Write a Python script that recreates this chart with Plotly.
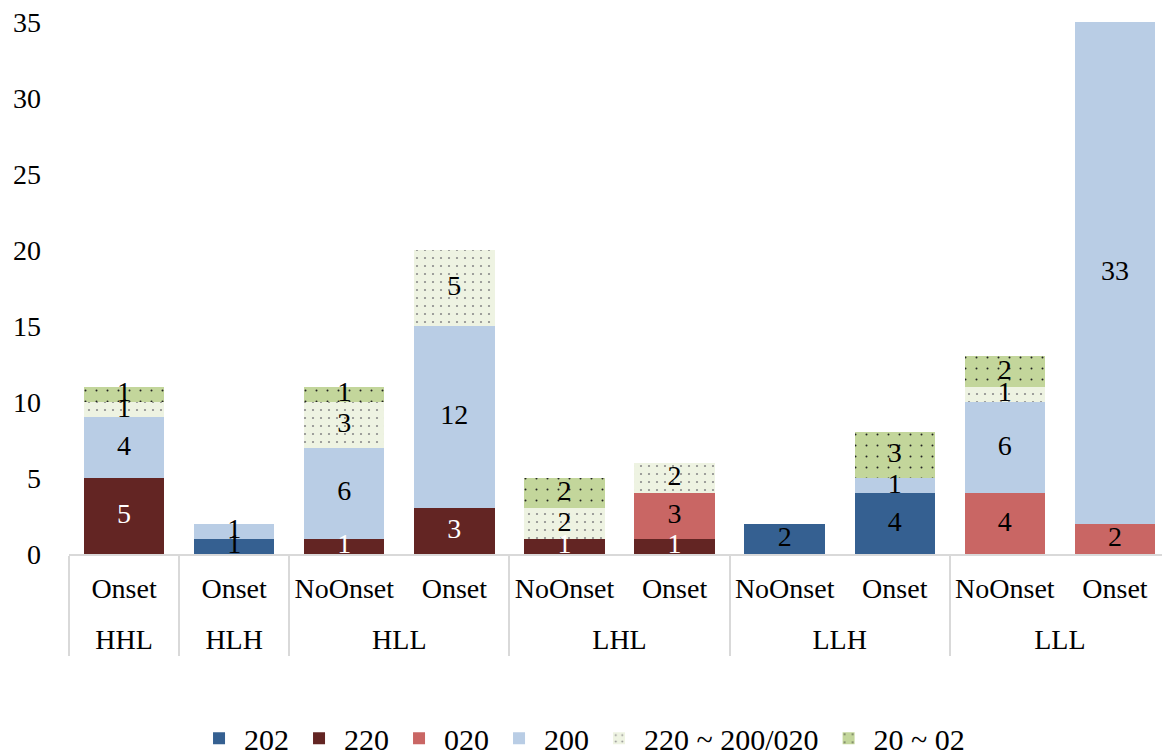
import plotly.graph_objects as go

groups = ["HHL", "HLH", "HLL", "HLL", "LHL", "LHL", "LLH", "LLH", "LLL", "LLL"]
subs = ["Onset", "Onset", "NoOnset", "Onset", "NoOnset", "Onset", "NoOnset", "Onset", "NoOnset", "Onset"]

s202 = [0, 1, 0, 0, 0, 0, 2, 4, 0, 0]
s220 = [5, 0, 1, 3, 1, 1, 0, 0, 0, 0]
s020 = [0, 0, 0, 0, 0, 3, 0, 0, 4, 2]
s200 = [4, 1, 6, 12, 0, 0, 0, 1, 6, 33]
s_mix = [1, 0, 3, 5, 2, 2, 0, 0, 1, 0]
s_2002 = [1, 0, 1, 0, 2, 0, 0, 3, 2, 0]

series_names = ["202", "220", "020", "200", "220 ~ 200/020", "20 ~ 02"]
series_vals = [s202, s220, s020, s200, s_mix, s_2002]
y_ticks = [0, 5, 10, 15, 20, 25, 30, 35]

FONT = "Liberation Serif"
colors = ["#356091", "#632523", "#C96664", "#B9CDE5", "#EEF3E2", "#C3D69B"]
patterns = [None, None, None, None,
            dict(shape=".", bgcolor="#EEF3E2", fgcolor="#8C8C8C", size=8, solidity=0.06, fillmode="replace"),
            dict(shape=".", bgcolor="#C3D69B", fgcolor="#222222", size=11, solidity=0.025, fillmode="replace")]
text_colors = ["black", "white", "black", "black", "black", "black"]

# category keys: plotly orders sub-levels by first appearance, so the "Onset"
# that follows a "NoOnset" inside a group gets a distinct (identically rendered) key
LBL = "<span style='font-size:28px'>{}</span>"
grp_has_no = {g for g, s in zip(groups, subs) if s == "NoOnset"}
sub_keys = [(LBL.format(s) + "<span></span>") if (s == "Onset" and g in grp_has_no) else LBL.format(s)
            for g, s in zip(groups, subs)]
grp_keys = ["<br>" + LBL.format(g) for g in groups]

fig = go.Figure()
for name, vals, col, pat in zip(series_names, series_vals, colors, patterns):
    marker = dict(color=col, line=dict(width=0))
    if pat is not None:
        marker["pattern"] = pat
    fig.add_trace(go.Bar(
        x=[grp_keys, sub_keys], y=[v if v else None for v in vals], name=name,
        marker=marker, hoverinfo="skip"))

# labels at segment centres
base = [0] * len(groups)
for vals, tc in zip(series_vals, text_colors):
    gx, sx, yy, tt = [], [], [], []
    for i, v in enumerate(vals):
        if v:
            gx.append(grp_keys[i]); sx.append(sub_keys[i])
            yy.append(base[i] + v / 2); tt.append(str(v))
        base[i] += v
    fig.add_trace(go.Scatter(
        x=[gx, sx], y=yy, text=tt, mode="text", textposition="middle center",
        textfont=dict(family=FONT, size=28, color=tc), showlegend=False,
        cliponaxis=False, hoverinfo="skip"))

# page body has an 8px default margin: size figure to fill the rest of the 1170x754 view
fig.update_layout(
    barmode="stack", bargap=0.27,
    width=1162, height=746,
    margin=dict(l=61, r=0, t=14, b=200),
    paper_bgcolor="white", plot_bgcolor="white",
    font=dict(family=FONT, size=28, color="black"),
    showlegend=True,
    legend=dict(orientation="h", xref="container", x=0.494, xanchor="center",
                yref="container", y=0.021, yanchor="middle", itemwidth=40,
                font=dict(family=FONT, size=30), traceorder="normal"),
)
fig.update_xaxes(
    type="multicategory",
    showline=True, linecolor="#D9D9D9", linewidth=1.5, automargin=False,
    showgrid=False, ticks="", showdividers=True, dividercolor="#D9D9D9", dividerwidth=1.5,
    ticklabelstandoff=13,
    tickfont=dict(family=FONT, size=24, color="black"))
fig.update_yaxes(
    range=[0, 35], tickvals=y_ticks, showgrid=False, zeroline=False, showline=False,
    automargin=False, ticks="", ticklabelstandoff=27, ticklabeloverflow="allow",
    tickfont=dict(family=FONT, size=28, color="black"))

fig.write_html("out.html")
